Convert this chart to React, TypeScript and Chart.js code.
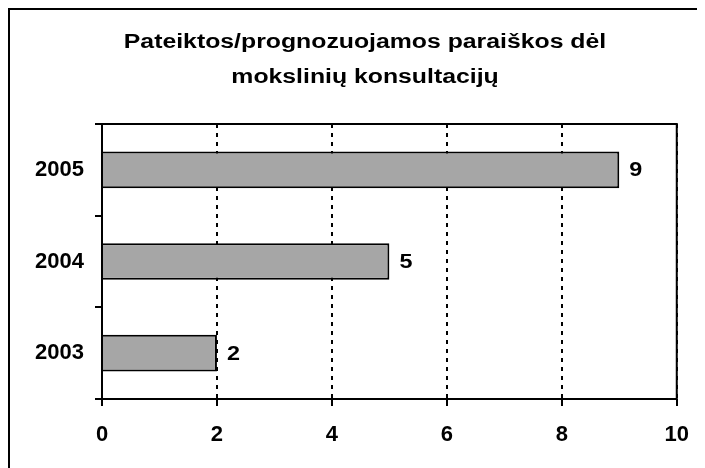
import React, { useEffect, useRef } from "react";
import { Chart, registerables } from "chart.js";

Chart.register(...registerables);

const titleLines = ["Pateiktos/prognozuojamos paraiškos dėl", "mokslinių konsultacijų"];
const categories = ["2005", "2004", "2003"];
const values = [9, 5, 2];
const xMin = 0;
const xMax = 10;
const xStep = 2;

const FONT = '"Liberation Sans", Arial, sans-serif';

function stretchedText(ctx: any, text: string, x: number, y: number, sx: number, align: string) {
  ctx.save();
  ctx.translate(x, y);
  ctx.scale(sx, 1);
  ctx.textAlign = align;
  ctx.fillText(text, 0, 0);
  ctx.restore();
}

const framePlugin = {
  id: "frame",
  afterDraw(chart: any) {
    const { ctx, chartArea } = chart;
    const { left, right, top, bottom } = chartArea;
    ctx.save();
    ctx.strokeStyle = "#000";
    ctx.lineWidth = 2;
    ctx.setLineDash([]);
    // outer border (top & left)
    ctx.beginPath();
    ctx.moveTo(1, chart.height);
    ctx.lineTo(1, 1);
    ctx.lineTo(chart.width, 1);
    ctx.stroke();
    // plot frame
    ctx.beginPath();
    ctx.moveTo(left, top);
    ctx.lineTo(right, top);
    ctx.lineTo(right, bottom);
    ctx.stroke();
    ctx.beginPath();
    ctx.moveTo(left, top);
    ctx.lineTo(left, bottom);
    ctx.lineTo(right, bottom);
    ctx.stroke();
    // title
    ctx.fillStyle = "#000";
    ctx.font = `bold 20px ${FONT}`;
    ctx.textBaseline = "alphabetic";
    titleLines.forEach((t, i) => stretchedText(ctx, t, 357, 40 + i * 35, 1.24, "center"));
    // data labels
    const meta = chart.getDatasetMeta(0);
    ctx.textBaseline = "middle";
    meta.data.forEach((bar: any, i: number) => {
      stretchedText(ctx, String(values[i]), bar.x + 10, bar.y + 1, 1.17, "left");
    });
    ctx.restore();
  },
};

export default function App() {
  const ref = useRef<HTMLCanvasElement>(null);
  useEffect(() => {
    document.body.style.overflow = "hidden";
    const chart = new Chart(ref.current!, {
      type: "bar",
      data: {
        labels: categories,
        datasets: [
          {
            data: values,
            backgroundColor: "#A6A6A6",
            borderColor: "#000",
            borderWidth: 2,
            barPercentage: 0.4,
            categoryPercentage: 1,
          },
        ],
      },
      options: {
        indexAxis: "y",
        responsive: false,
        animation: false,
        layout: { padding: { left: 0, right: 26, top: 116, bottom: 0 } },
        plugins: { legend: { display: false }, title: { display: false }, tooltip: { enabled: false } },
        scales: {
          x: {
            type: "linear",
            min: xMin,
            max: xMax,
            ticks: {
              stepSize: xStep,
              color: "#000",
              padding: 16,
              font: { family: FONT, size: 22, weight: "bold" },
            },
            grid: { color: "#000", lineWidth: 2, tickLength: 7, tickColor: "#000", tickWidth: 2 },
            border: { display: false, dash: [4, 5] },
            afterFit(scale: any) {
              scale.height = 69;
            },
          },
          y: {
            type: "category",
            ticks: {
              color: "#000",
              padding: 11,
              font: { family: FONT, size: 22, weight: "bold" },
            },
            grid: {
              color: "#000",
              lineWidth: 2,
              drawOnChartArea: false,
              tickLength: 7,
              offset: true,
            },
            border: { display: false },
            afterFit(scale: any) {
              scale.width = 94;
            },
          },
        },
      },
      plugins: [framePlugin],
    });
    return () => chart.destroy();
  }, []);
  return (
    <div style={{ width: 697, height: 460 }}>
      <canvas ref={ref} width={697} height={460} style={{ display: "block" }} />
    </div>
  );
}
